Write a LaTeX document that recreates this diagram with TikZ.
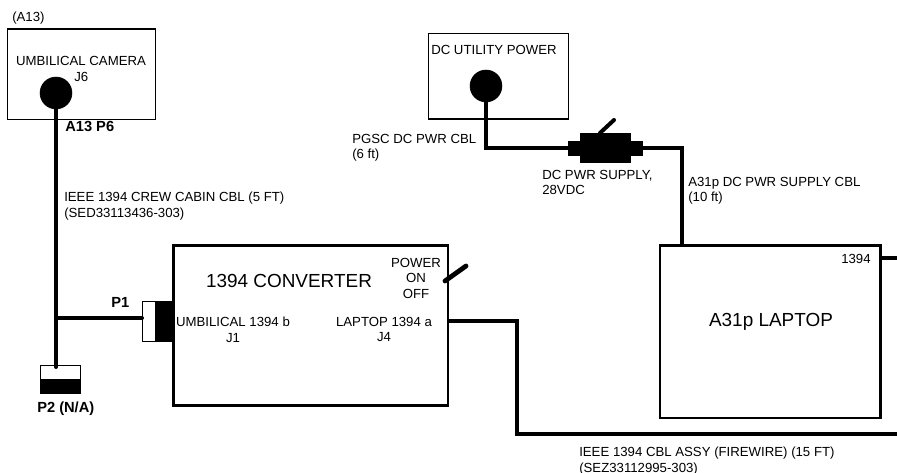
\documentclass[tikz,border=0pt]{standalone}
\usepackage{fontspec}
\setmainfont{Liberation Sans}
\usetikzlibrary{positioning}
\begin{document}
\begin{tikzpicture}[x=0.75pt, y=-0.75pt,
          b/.style={draw, line width=#1, inner sep=0pt, anchor=north west},
          b/.default=1.6pt,
          plug/.style={circle, fill=black, draw=black, minimum size=24pt, inner sep=0pt},
          blk/.style={fill=black, draw=black, inner sep=0pt, anchor=north west},
          wht/.style={fill=white, draw=black, line width=0.9pt, inner sep=0pt, anchor=north west},
          cbl/.style={line width=3pt, line cap=round},
          t/.style={font=\fontsize{9.9}{11.5}\selectfont, align=left, inner sep=0pt, anchor=north west},
          tc/.style={font=\fontsize{9.9}{11.5}\selectfont, align=center, inner sep=0pt, anchor=north},
          tb/.style={font=\fontsize{11}{13}\selectfont\bfseries, inner sep=0pt, anchor=north west},
          big/.style={font=\fontsize{14.2}{17}\selectfont, inner sep=0pt}]
        \useasboundingbox (0,0) rectangle (897,473);
        % camera
        \node[b=1pt, minimum width=111pt, minimum height=68pt] (cam) at (6.5,28.5) {};
        \node[plug] (j6) at (56,93) {};
        \node[t] (a13) at (12,11.5) {(A13)};
        \node[tc] (camtxt) at (81,56) {UMBILICAL CAMERA};
        \node[t] (j6txt) at (74,72) {J6};
        \node[tb] (p6) at (65,121) {A13 P6};
        \node[t] (crew) at (64,192) {IEEE 1394 CREW CABIN CBL (5 FT)\\(SED33113436-303)};
        % converter
        \node[b=2pt, minimum width=206pt, minimum height=120pt] (conv) at (172,244.5) {};
        \node[big] (convtxt) at (289,281) {1394 CONVERTER};
        \node[tc] (pwr) at (416,258) {POWER\\ON\\OFF};
        \node[tc] (j1) at (233,317) {UMBILICAL 1394 b\\J1};
        \node[tc] (j4) at (384,317) {LAPTOP 1394 a\\J4};
        \node[wht, minimum width=10pt, minimum height=30pt] (p1w) at (142,301) {};
        \node[blk, minimum width=12pt, minimum height=30pt] (j1b) at (156,301) {};
        \node[tb] (p1) at (111,297) {P1};
        % P2
        \node[wht, minimum width=30pt, minimum height=21pt] (p2w) at (39.5,365) {};
        \node[blk, minimum width=30pt, minimum height=10pt] (p2b) at (39.5,379) {};
        \node[tb] (p2) at (37,402) {P2 (N/A)};
        \coordinate (t1) at (56,318);
        \draw[cbl] (j6)--([yshift=-1.5pt]p2w.north -| j6);
        \draw[cbl] (t1)--(t1 -| p1w.west);
        \coordinate (sw) at (445,281);
        \coordinate (swe) at (466,266);
        \draw[cbl, line width=3.6pt] (sw)--(swe);
        % dc power
        \node[b=1pt, minimum width=105pt, minimum height=64pt] (dc) at (428,33) {};
        \node[plug] (dcp) at (486,86) {};
        \node[t] (dctxt) at (431,45) {DC UTILITY POWER};
        \node[t] (pgsc) at (352,134) {PGSC DC PWR CBL\\(6 ft)};
        \node[t] (sup) at (542,170) {DC PWR SUPPLY,\\28VDC};
        \node[t] (a31) at (688,177) {A31p DC PWR SUPPLY CBL\\(10 ft)};
        \node[blk, minimum width=9pt, minimum height=10.5pt] (psl) at (567.5,141) {};
        \node[blk, minimum width=37.5pt, minimum height=22pt] (ps) at (579.5,133) {};
        \node[blk, minimum width=10pt, minimum height=10.5pt] (psr) at (629,141) {};
        \coordinate (psw) at (600,133);
        \coordinate (pswe) at (614,120);
        \draw[cbl] (psw)--(pswe);
        \coordinate (dcc) at (486,148);
        \draw[cbl] (dcp)--(dcc)--(dcc -| psl.west);
        % laptop
        \node[b=2pt, minimum width=165.5pt, minimum height=129.5pt] (lap) at (658.5,244) {};
        \node[big] (laptxt) at (771,322) {A31p LAPTOP};
        \node[t] (l1394) at (841,254) {1394};
        \coordinate (lcc) at (682,148);
        \draw[cbl] (lcc -| psr.east)--(lcc)--(lcc |- lap.north);
        % firewire
        \coordinate (fw1) at (517,321);
        \coordinate (fw2) at (517,434);
        \coordinate (fwe) at (897,434);
        \coordinate (fwl) at (897,258);
        \draw[cbl] (conv.east |- fw1)--(fw1)--(fw2)--(fwe);
        \draw[cbl] (lap.east |- fwl)--(fwl);
        \node[t] (fwtxt) at (579,447) {IEEE 1394 CBL ASSY (FIREWIRE) (15 FT)\\(SEZ33112995-303)};
\end{tikzpicture}
\end{document}
